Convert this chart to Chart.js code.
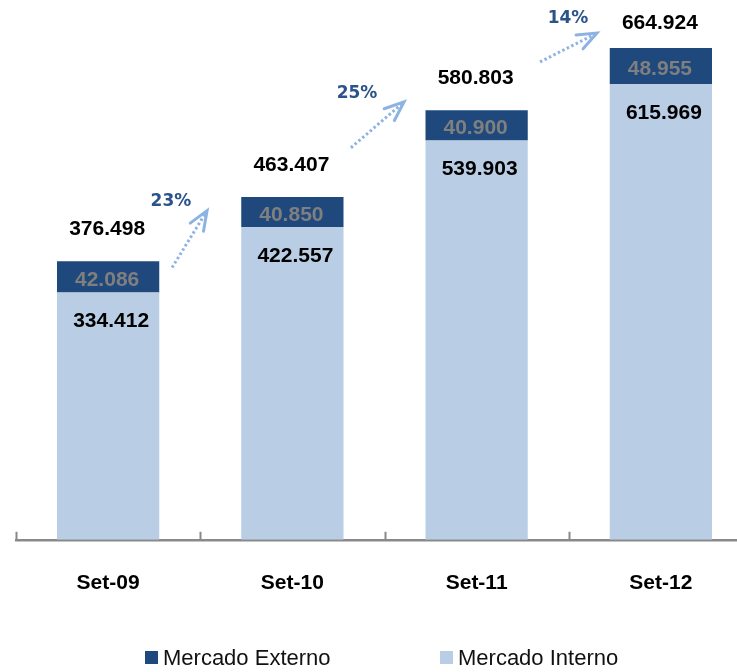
<!DOCTYPE html>
<html><head><meta charset="utf-8">
<script src="https://cdn.jsdelivr.net/npm/chart.js@4.4.0/dist/chart.umd.min.js"></script>
<style>
html,body{margin:0;padding:0;background:#fff;overflow:hidden;width:737px;height:672px}
#wrap{position:relative;width:770px;height:672px}
</style>
</head><body><div id="wrap"><canvas id="c" width="770" height="672"></canvas></div>
<script>
const categories = ['Set-09', 'Set-10', 'Set-11', 'Set-12'];
const mercadoInterno = [334.412, 422.557, 539.903, 615.969];
const mercadoExterno = [42.086, 40.850, 40.900, 48.955];
const totals = [376.498, 463.407, 580.803, 664.924];
const growth = ['23%', '25%', '14%'];
const seriesNames = ['Mercado Externo', 'Mercado Interno'];

const C_EXT = '#1F497D';
const C_INT = '#B9CDE5';
const C_ARROW = '#8DB3E2';
const C_PCT = '#2A5389';
const FONT = '"Liberation Sans", Arial, sans-serif';
const fmt = v => v.toFixed(3);

// growth arrow anchors, in scale units (category index, value)
const arrowLayout = [
  {sx: 0.347, sy: 368, ex: 0.537, ey: 445, tx: 0.341, ty: 457},
  {sx: 1.318, sy: 530, ex: 1.606, ey: 592, tx: 1.351, ty: 603},
  {sx: 2.344, sy: 646, ex: 2.653, ey: 685, tx: 2.496, ty: 705}
];

const decor = {
  id: 'decor',
  afterDatasetsDraw(chart) {
    const ctx = chart.ctx;
    const xs = chart.scales.x, ys = chart.scales.y;
    const area = chart.chartArea;
    const metaInt = chart.getDatasetMeta(0);
    const metaExt = chart.getDatasetMeta(1);
    ctx.save();
    // small upward ticks at category boundaries
    ctx.strokeStyle = '#898989';
    ctx.lineWidth = 2;
    const n = categories.length;
    for (let i = 0; i <= n; i++) {
      const x = Math.round(area.left + i * (area.right - area.left) / n) + 0.5;
      ctx.beginPath();
      ctx.moveTo(x, area.bottom);
      ctx.lineTo(x, area.bottom - 8);
      ctx.stroke();
    }
    // value labels
    ctx.textAlign = 'center';
    ctx.textBaseline = 'middle';
    ctx.font = 'bold 21px ' + FONT;
    for (let i = 0; i < n; i++) {
      const bi = metaInt.data[i], be = metaExt.data[i];
      ctx.fillStyle = '#000';
      ctx.fillText(fmt(mercadoInterno[i]), bi.x + 3, bi.y + 29);
      ctx.fillStyle = '#7F7F7F';
      ctx.fillText(fmt(mercadoExterno[i]), be.x - 1, (be.y + be.base) / 2 + 3);
      ctx.fillStyle = '#000';
      ctx.fillText(fmt(totals[i]), be.x - 1, Math.max(ys.getPixelForValue(totals[i]) - 32, 23));
    }
    // growth arrows
    arrowLayout.forEach((a, i) => {
      const sx = xs.getPixelForValue(a.sx), sy = ys.getPixelForValue(a.sy);
      const ex = xs.getPixelForValue(a.ex), ey = ys.getPixelForValue(a.ey);
      const ang = Math.atan2(ey - sy, ex - sx);
      ctx.strokeStyle = C_ARROW;
      ctx.lineWidth = 3;
      ctx.lineCap = 'butt';
      ctx.setLineDash([2.5, 2.5]);
      ctx.beginPath();
      ctx.moveTo(sx, sy);
      ctx.lineTo(ex - 3 * Math.cos(ang), ey - 3 * Math.sin(ang));
      ctx.stroke();
      ctx.setLineDash([]);
      ctx.lineWidth = 3;
      ctx.lineCap = 'round';
      ctx.lineJoin = 'miter';
      ctx.beginPath();
      const L = 21, spread = 0.38;
      ctx.moveTo(ex - L * Math.cos(ang - spread), ey - L * Math.sin(ang - spread));
      ctx.lineTo(ex, ey);
      ctx.lineTo(ex - L * Math.cos(ang + spread), ey - L * Math.sin(ang + spread));
      ctx.stroke();
      ctx.fillStyle = C_PCT;
      ctx.font = 'bold 17px "DejaVu Sans", Verdana, sans-serif';
      ctx.fillText(growth[i], xs.getPixelForValue(a.tx), ys.getPixelForValue(a.ty));
    });
    // legend
    ctx.font = '22px ' + FONT;
    ctx.textAlign = 'left';
    const items = [
      {name: seriesNames[0], color: C_EXT, x: 145},
      {name: seriesNames[1], color: C_INT, x: 440}
    ];
    items.forEach(it => {
      ctx.fillStyle = it.color;
      ctx.fillRect(it.x, 651, 13, 13);
      ctx.fillStyle = '#111';
      ctx.fillText(it.name, it.x + 18, 659);
    });
    ctx.restore();
  }
};

new Chart(document.getElementById('c'), {
  type: 'bar',
  data: {
    labels: categories,
    datasets: [
      {label: seriesNames[1], data: mercadoInterno, backgroundColor: C_INT, stack: 's'},
      {label: seriesNames[0], data: mercadoExterno, backgroundColor: C_EXT, stack: 's'}
    ]
  },
  options: {
    responsive: false,
    animation: false,
    devicePixelRatio: 1,
    layout: {padding: {left: 16, right: 17, top: 22, bottom: 45}},
    datasets: {bar: {categoryPercentage: 1, barPercentage: 0.555}},
    plugins: {legend: {display: false}, tooltip: {enabled: false}},
    scales: {
      x: {
        stacked: true,
        grid: {display: false, drawTicks: false},
        border: {display: true, color: '#898989', width: 2.5},
        ticks: {color: '#000', padding: 31, font: {family: FONT, size: 21, weight: 'bold'}}
      },
      y: {
        stacked: true,
        display: false,
        min: 0,
        max: 700
      }
    }
  },
  plugins: [decor]
});
</script>
</body></html>
